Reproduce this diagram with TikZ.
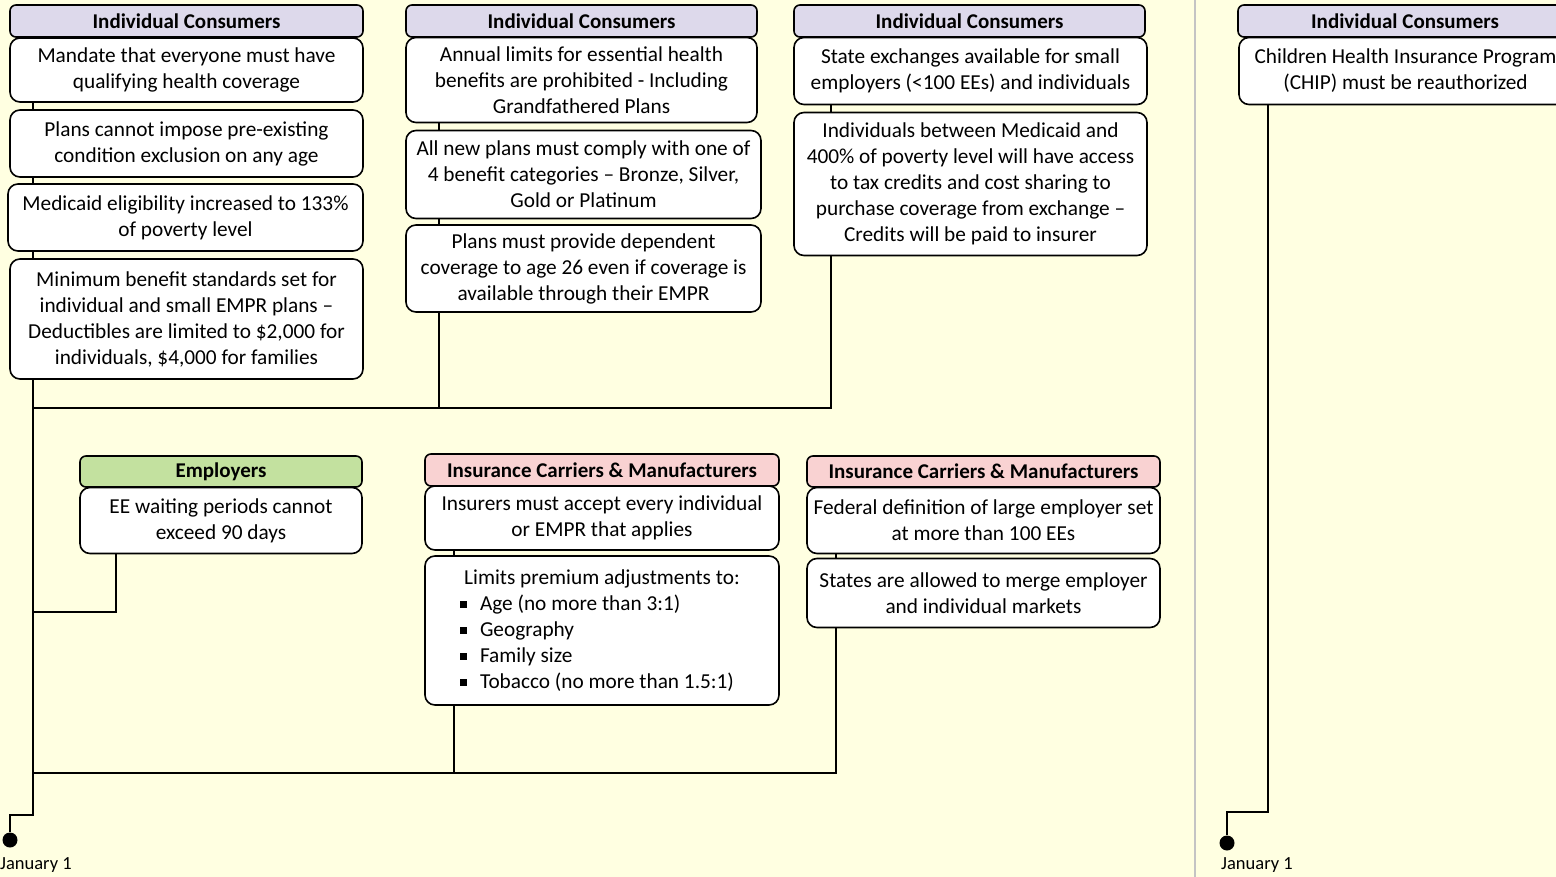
\documentclass[tikz,border=0pt]{standalone}
\usepackage{fontspec}
\setmainfont{Carlito}
\definecolor{paper}{HTML}{FFFFE1}
\definecolor{lav}{HTML}{DDD9EB}
\definecolor{grn}{HTML}{C3E19F}
\definecolor{pnk}{HTML}{F9D2D2}
\definecolor{divider}{HTML}{C4C4C4}
\pgfdeclarelayer{paperlayer}
\pgfdeclarelayer{wires}
\pgfsetlayers{paperlayer,wires,main}
% one bulleted line of a list box, left aligned inside the box width
\newcommand\sqitem[1]{\makebox[354pt][l]{\hspace*{35pt}\rule[2pt]{7pt}{7pt}\hspace{13pt}#1}}
\begin{document}
\begin{tikzpicture}[x=1pt,y=-1pt,
  item/.style={draw=black, line width=1.6pt, fill=white, rounded corners=10pt,
    align=center, inner sep=0pt, font=\fontsize{21.3}{26}\selectfont},
  head/.style={draw=black, line width=1.6pt, rounded corners=6pt, align=center,
    inner sep=0pt, minimum height=32pt, font=\fontsize{21}{26}\selectfont\bfseries},
  wire/.style={line width=2pt, draw=black},
  stamp/.style={circle, fill=black, inner sep=0pt, minimum size=15pt},
  datelabel/.style={anchor=west, inner sep=0pt, font=\fontsize{18.5}{22}\selectfont}]

\useasboundingbox (0,0) rectangle (1556,877);
\clip (0,0) rectangle (1556,877);
\begin{pgfonlayer}{paperlayer}
  \fill[paper] (0,0) rectangle (1556,877);
  \draw[divider, line width=2pt] (1195,0) -- (1195,877);
\end{pgfonlayer}

% ---- first group: individual consumers
\node[item, minimum width=353pt, minimum height=64pt] (b11) at (186.5,70)
  {Mandate that everyone must have\\qualifying health coverage};
\node[item, minimum width=353pt, minimum height=67pt] (b12) at (186.5,143.5)
  {Plans cannot impose pre-existing\\condition exclusion on any age};
\node[item, minimum width=355pt, minimum height=67pt] (b13) at (185.5,217.5)
  {Medicaid eligibility increased to 133\%\\of poverty level};
\node[item, minimum width=353pt, minimum height=120pt] (b14) at (186.5,319)
  {Minimum benefit standards set for\\individual and small EMPR plans --\\Deductibles are limited to \$2,000 for\\individuals, \$4,000 for families};
\node[head, fill=lav, minimum width=353pt] (h1) at (186.5,21) {Individual Consumers};

\node[item, minimum width=351pt, minimum height=85pt] (b21) at (581.5,80)
  {Annual limits for essential health\\benefits are prohibited - Including\\Grandfathered Plans};
\node[item, minimum width=355pt, minimum height=88pt] (b22) at (583.5,174.5)
  {All new plans must comply with one of\\4 benefit categories -- Bronze, Silver,\\Gold or Platinum};
\node[item, minimum width=355pt, minimum height=87pt] (b23) at (583.5,268.5)
  {Plans must provide dependent\\coverage to age 26 even if coverage is\\available through their EMPR};
\node[head, fill=lav, minimum width=351pt] (h2) at (581.5,21) {Individual Consumers};

\node[item, minimum width=353pt, minimum height=67pt] (b31) at (970.5,71)
  {State exchanges available for small\\employers (<100 EEs) and individuals};
\node[item, minimum width=353pt, minimum height=143pt] (b32) at (970.5,184)
  {Individuals between Medicaid and\\400\% of poverty level will have access\\to tax credits and cost sharing to\\purchase coverage from exchange --\\Credits will be paid to insurer};
\node[head, fill=lav, minimum width=351pt] (h3) at (969.5,21) {Individual Consumers};

% ---- second group: employers and carriers
\node[item, minimum width=282pt, minimum height=66pt] (be1) at (221,520.5)
  {EE waiting periods cannot\\exceed 90 days};
\node[head, fill=grn, minimum width=282pt, minimum height=31pt] (he) at (221,471.5) {Employers};

\node[item, minimum width=354pt, minimum height=64pt] (bi11) at (602,518)
  {Insurers must accept every individual\\or EMPR that applies};
\node[item, minimum width=354pt, minimum height=149pt] (bi12) at (602,630.5)
  {Limits premium adjustments to:\\
   \sqitem{Age (no more than 3:1)}\\
   \sqitem{Geography}\\
   \sqitem{Family size}\\
   \sqitem{Tobacco (no more than 1.5:1)}};
\node[head, fill=pnk, minimum width=354pt] (hi1) at (602,470) {Insurance Carriers \& Manufacturers};

\node[item, minimum width=353pt, minimum height=66pt] (bi21) at (983.5,520.5)
  {Federal definition of large employer set\\at more than 100 EEs};
\node[item, minimum width=353pt, minimum height=69pt] (bi22) at (983.5,593)
  {States are allowed to merge employer\\and individual markets};
\node[head, fill=pnk, minimum width=353pt, minimum height=31pt] (hi2) at (983.5,471.5) {Insurance Carriers \& Manufacturers};

% ---- following year
\node[item, minimum width=333pt, minimum height=67pt] (br1) at (1405.5,71)
  {Children Health Insurance Program\\(CHIP) must be reauthorized};
\node[head, fill=lav, minimum width=334pt] (hr) at (1405,21) {Individual Consumers};

% ---- timeline stamps
\node[stamp] (d1) at (10,840) {};
\node[stamp] (d2) at (1227,843) {};
\node[datelabel] (l1) at (0,865) {January 1};
\node[datelabel] (l2) at (1221,865) {January 1};

% ---- junction points of the connectors
\coordinate (j1) at (33,408);
\coordinate (j2) at (33,612);
\coordinate (j3) at (33,773);
\coordinate (j4) at (33,815);
\coordinate (j5) at (10,815);
\coordinate (c2) at (439,408);
\coordinate (c3) at (831,408);
\coordinate (e1) at (116,612);
\coordinate (i1) at (454,773);
\coordinate (i2) at (836,773);
\coordinate (r1) at (1268,812);
\coordinate (r2) at (1227,812);

\begin{pgfonlayer}{wires}
  \draw[wire] (h1.center -| j1) -- (j4) -- (j5) -- (d1);
  \draw[wire] (h2.center -| c2) -- (c2) -- (j1);
  \draw[wire] (h3.center -| c3) -- (c3) -- (c2);
  \draw[wire] (be1.center -| e1) -- (e1) -- (j2);
  \draw[wire] (hi1.center -| i1) -- (i1) -- (j3);
  \draw[wire] (hi2.center -| i2) -- (i2) -- (i1);
  \draw[wire] (hr.center -| r1) -- (r1) -- (r2) -- (d2);
\end{pgfonlayer}
\end{tikzpicture}
\end{document}
